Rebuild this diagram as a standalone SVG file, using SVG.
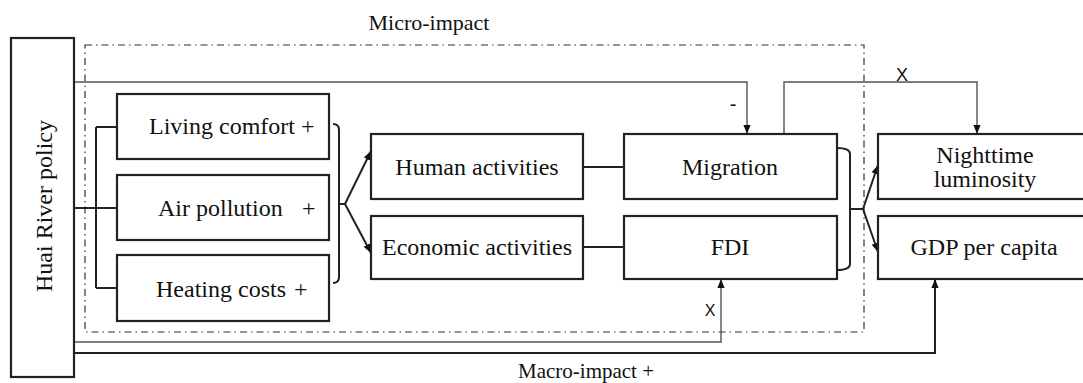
<svg xmlns="http://www.w3.org/2000/svg" width="1083" height="383" viewBox="0 0 1083 383">
<style>
.box{fill:#fff;stroke:#222;stroke-width:2.2}
.t{font-family:"Liberation Serif","Times New Roman",serif;font-size:24px;fill:#111}
.tc{text-anchor:middle}
.lab{font-family:"Liberation Sans",Arial,sans-serif;font-size:16px;fill:#111;text-anchor:middle}
.ln{fill:none;stroke:#222;stroke-width:2}
.thin{fill:none;stroke:#555;stroke-width:1.4}
.dd{fill:none;stroke:#333;stroke-width:1.2;stroke-dasharray:7,4,1.5,4}
</style>
<defs>
<marker id="ah" markerUnits="userSpaceOnUse" markerWidth="9" markerHeight="9" viewBox="0 0 10 10" refX="10" refY="5" orient="auto">
<path d="M0,1 L10,5 L0,9 Z" fill="#111"/>
</marker>
</defs>
<rect width="1083" height="383" fill="#fff"/>

<rect class="dd" x="85" y="45" width="779" height="287"/>
<text class="t tc" x="429" y="30" style="font-size:22px">Micro-impact</text>
<text class="t" x="518" y="378" style="font-size:21px">Macro-impact +</text>

<g id="connectors">
<path class="ln" d="M74,208 H96 M96,127 V288 M96,127 H117 M96,208 H117 M96,288 H117"/>
<path class="ln" d="M333,124 Q339,124 339,130 V277 Q339,283 333,283 M339,204 H345"/>
<path class="ln" d="M345,204 L371,151" marker-end="url(#ah)"/>
<path class="ln" d="M345,204 L371,253" marker-end="url(#ah)"/>
<path class="ln" d="M583,167 H624 M583,247 H624"/>
<path class="ln" d="M837,148 Q850,148 850,154 V264 Q850,270 837,270 M850,209 H863"/>
<path class="ln" d="M863,209 L878,165" marker-end="url(#ah)"/>
<path class="ln" d="M863,209 L878,252" marker-end="url(#ah)"/>
<path class="thin" d="M74,82 H747 V134" marker-end="url(#ah)"/>
<text class="lab" x="733" y="111" style="font-size:20px">-</text>
<path class="thin" d="M784,134 V82 H977 V134" marker-end="url(#ah)"/>
<text class="lab" x="902" y="81" style="font-size:18px">X</text>
<path class="thin" d="M74,342 H721 V279" marker-end="url(#ah)"/>
<text class="lab" x="710" y="316">X</text>
<path class="ln" d="M74,353 H935 V279" marker-end="url(#ah)"/>
</g>

<g id="policy">
<rect class="box" x="11" y="38" width="63" height="339"/>
<text class="t tc" transform="translate(52,206) rotate(-90)">Huai River policy</text>
</g>
<g id="living">
<rect class="box" x="117" y="94" width="212" height="65"/>
<text class="t" x="149" y="134">Living comfort<tspan x="301">+</tspan></text>
</g>
<g id="air">
<rect class="box" x="117" y="175" width="212" height="65"/>
<text class="t" x="158" y="216">Air pollution<tspan x="302">+</tspan></text>
</g>
<g id="heating">
<rect class="box" x="117" y="255" width="212" height="66"/>
<text class="t" x="156" y="297">Heating costs<tspan x="294">+</tspan></text>
</g>
<g id="human">
<rect class="box" x="371" y="134" width="212" height="65"/>
<text class="t tc" x="477" y="175">Human activities</text>
</g>
<g id="economic">
<rect class="box" x="371" y="216" width="212" height="63"/>
<text class="t tc" x="477" y="255">Economic activities</text>
</g>
<g id="migration">
<rect class="box" x="624" y="134" width="213" height="65"/>
<text class="t tc" x="730" y="175">Migration</text>
</g>
<g id="fdi">
<rect class="box" x="624" y="216" width="213" height="63"/>
<text class="t tc" x="730" y="255">FDI</text>
</g>
<g id="nighttime">
<rect class="box" x="878" y="134" width="215" height="65"/>
<text class="t tc" x="985" y="163">Nighttime</text>
<text class="t tc" x="985" y="187">luminosity</text>
</g>
<g id="gdp">
<rect class="box" x="878" y="216" width="215" height="63"/>
<text class="t tc" x="984" y="255">GDP per capita</text>
</g>
</svg>
